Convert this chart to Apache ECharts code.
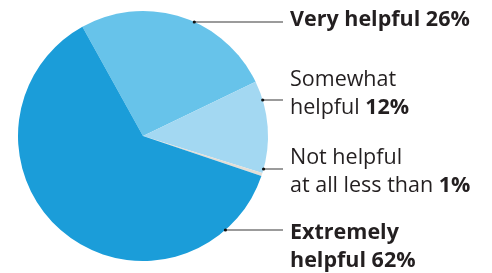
<!DOCTYPE html>
<html>
<head>
<meta charset="utf-8">
<script src="https://cdn.jsdelivr.net/npm/echarts@6/dist/echarts.min.js"></script>
<style>
  html, body { margin: 0; padding: 0; background: #fff; }
  #chart { width: 492px; height: 273px; }
</style>
</head>
<body>
<div id="chart"></div>
<script>
// slices, clockwise from the top-left boundary
var names = ['Very helpful', 'Somewhat helpful', 'Not helpful at all', 'Extremely helpful'];
var values = [26, 12, 0.4, 62];
var percentLabels = ['26%', '12%', '1%', '62%'];
var colors = ['#67c3ea', '#a3d8f2', '#e3ded6', '#1b9dd9'];

// label text (rich), in the same order
var labelTexts = [
  '{b|Very helpful ' + percentLabels[0] + '}',
  'Somewhat\nhelpful {b|' + percentLabels[1] + '}',
  'Not helpful\nat all less than {b|' + percentLabels[2] + '}',
  '{b|Extremely}\n{b|helpful ' + percentLabels[3] + '}'
];

var cx = 143, cy = 136, R = 125;
var labelX = 290, lineEndX = 283;
var labelTop = [6, 66, 144, 219];
var lineY = [22, 100, 169, 230];

function rimX(y) {
  var dy = y - cy;
  return cx + Math.sqrt(R * R - dy * dy);
}

var myChart = echarts.init(document.getElementById('chart'));
var option = {
  animation: false,
  series: [
    {
      type: 'pie',
      center: [cx, cy],
      radius: R,
      startAngle: 119,
      clockwise: true,
      silent: true,
      avoidLabelOverlap: false,
      data: names.map(function (n, i) {
        return { name: n, value: values[i], itemStyle: { color: colors[i] } };
      }),
      label: {
        show: true,
        position: 'outside',
        overflow: 'none',
        formatter: function (p) { return labelTexts[p.dataIndex]; },
        fontFamily: 'Open Sans',
        fontSize: 21.5,
        lineHeight: 28,
        color: '#231f20',
        rich: {
          b: { fontFamily: 'Open Sans', fontSize: 21.5, lineHeight: 28, fontWeight: 'bold', color: '#231f20' }
        }
      },
      labelLine: {
        show: true,
        lineStyle: { color: '#7a7a7a', width: 1.5 }
      },
      labelLayout: function (params) {
        var i = params.dataIndex;
        return {
          x: labelX,
          y: labelTop[i],
          align: 'left',
          verticalAlign: 'top',
          labelLinePoints: [[rimX(lineY[i]), lineY[i]], [lineEndX, lineY[i]]]
        };
      }
    }
  ],
  graphic: lineY.map(function (y) {
    return {
      type: 'circle',
      shape: { cx: rimX(y), cy: y, r: 1.6 },
      style: { fill: '#111' },
      z: 100
    };
  })
};
option && myChart.setOption(option);
</script>
</body>
</html>
